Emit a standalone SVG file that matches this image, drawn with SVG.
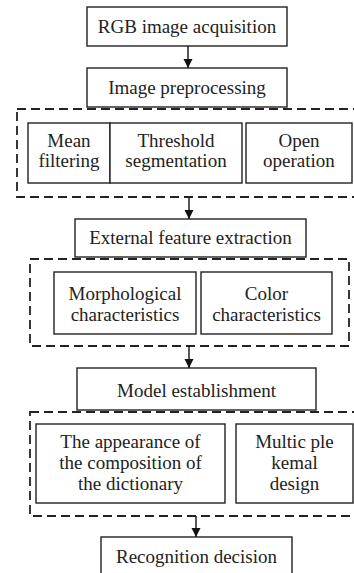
<svg xmlns="http://www.w3.org/2000/svg" width="354" height="573" viewBox="0 0 354 573">
<defs>
<marker id="ah" markerWidth="10" markerHeight="10" refX="9" refY="5" orient="auto" markerUnits="userSpaceOnUse">
<path d="M0,0.5 L9,5 L0,9.5 Z" fill="#111"/>
</marker>
<style>
.box{fill:#fff;stroke:#222;stroke-width:1.4}
.grp{fill:none;stroke:#222;stroke-width:1.8;stroke-dasharray:9 5}
.t{font-size:19px;fill:#222;text-anchor:middle}
.c{stroke:#111;stroke-width:1.4;fill:none}
</style>
</defs>
<rect width="354" height="573" fill="#fff"/>
<g id="groups">
<rect id="grp-preprocessing" class="grp" x="17" y="109" width="345" height="88"/>
<rect id="grp-features" class="grp" x="30" y="259" width="319" height="87"/>
<rect id="grp-model" class="grp" x="30" y="412" width="332" height="104"/>
</g>
<g font-family="'Liberation Serif', 'DejaVu Serif', serif">
<g id="n-rgb"><rect class="box" x="87" y="7" width="200" height="39"/><text class="t" x="187" y="33">RGB image acquisition</text></g>
<g id="n-pre"><rect class="box" x="87" y="68" width="200" height="39"/><text class="t" x="187" y="94">Image preprocessing</text></g>
<g id="n-mean"><rect class="box" x="28" y="123" width="82" height="60"/><text class="t" x="69" y="147">Mean</text><text class="t" x="69" y="167">filtering</text></g>
<g id="n-thresh"><rect class="box" x="110" y="123" width="132" height="60"/><text class="t" x="176" y="147">Threshold</text><text class="t" x="176" y="167">segmentation</text></g>
<g id="n-open"><rect class="box" x="246" y="123" width="106" height="60"/><text class="t" x="299" y="147">Open</text><text class="t" x="299" y="167">operation</text></g>
<g id="n-ext"><rect class="box" x="75" y="219" width="231" height="38"/><text class="t" x="190.5" y="244">External feature extraction</text></g>
<g id="n-morph"><rect class="box" x="54" y="272" width="142" height="62"/><text class="t" x="125" y="300">Morphological</text><text class="t" x="125" y="321">characteristics</text></g>
<g id="n-color"><rect class="box" x="201" y="272" width="131" height="62"/><text class="t" x="266.5" y="300">Color</text><text class="t" x="266.5" y="321">characteristics</text></g>
<g id="n-model"><rect class="box" x="77" y="368" width="239" height="42"/><text class="t" x="196.5" y="397">Model establishment</text></g>
<g id="n-dict"><rect class="box" x="36" y="424" width="189" height="79"/><text class="t" x="130.5" y="448">The appearance of</text><text class="t" x="130.5" y="469">the composition of</text><text class="t" x="130.5" y="490">the dictionary</text></g>
<g id="n-kernel"><rect class="box" x="236" y="424" width="117" height="79"/><text class="t" x="294.5" y="448">Multic ple</text><text class="t" x="294.5" y="469">kemal</text><text class="t" x="294.5" y="490">design</text></g>
<g id="n-rec"><rect class="box" x="101" y="537" width="191" height="44"/><text class="t" x="196.5" y="563">Recognition decision</text></g>
</g>
<g id="connectors">
<line class="c" x1="188" y1="46" x2="188" y2="68" marker-end="url(#ah)"/>
<line class="c" x1="189" y1="197" x2="189" y2="219" marker-end="url(#ah)"/>
<line class="c" x1="189" y1="346" x2="189" y2="368" marker-end="url(#ah)"/>
<line class="c" x1="196" y1="516" x2="196" y2="537" marker-end="url(#ah)"/>
</g>
</svg>
